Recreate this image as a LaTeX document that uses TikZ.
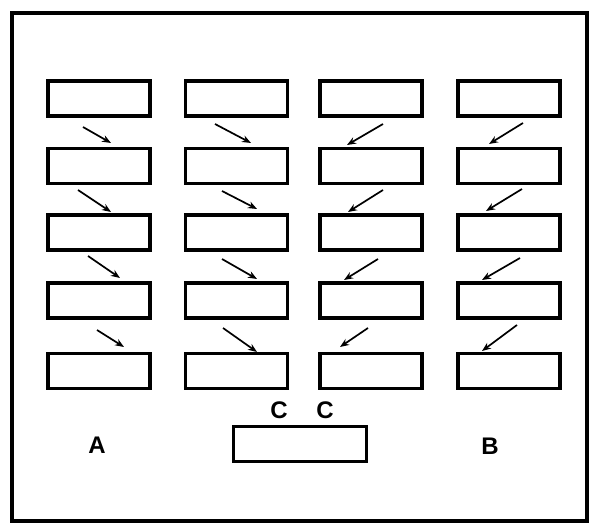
\documentclass[tikz,border=0pt]{standalone}
\usepackage{fontspec}
\setmainfont{Liberation Sans}
\usetikzlibrary{arrows.meta}
\begin{document}
\begin{tikzpicture}[x=1pt,y=-1pt,
  box/.style={draw,line width=3.2pt,minimum width=102pt,minimum height=35pt,inner sep=0pt},
  arr/.style={line width=1.7pt,-{Stealth[length=9pt,width=7pt]}},
  lbl/.style={font=\bfseries\fontsize{24}{24}\selectfont,inner sep=0pt}]
\useasboundingbox (0,0) rectangle (590,524);
\draw[line width=3.8pt] (12,13) rectangle (587,521);
% boxes: columns centres x, rows centres y
\foreach \c/\x in {1/99,2/236.5,3/371,4/509}{
  \foreach \r/\y in {1/98.5,2/166,3/232.5,4/300.5,5/371}{
    \node[box] (b\c\r) at (\x,\y) {};
  }
}
\node[box,minimum width=133pt,minimum height=35pt] (bc) at (300,444) {};
\node[lbl] (la) at (97,445) {A};
\node[lbl] (lb) at (490,446) {B};
\node[lbl] (lc1) at (279,410) {C};
\node[lbl] (lc2) at (325,410) {C};
% arrow end points
\foreach \n/\sx/\sy/\ex/\ey in {
 11/83/127/111/143, 12/78/190/111/212, 13/88/256/120/278, 14/97/330/124/347,
 21/215/124/251/143, 22/222/191/257/209, 23/222/259/257/279, 24/223/328/257/352,
 31/383/124/347/145, 32/383/190/348/212, 33/378/259/344/280, 34/368/328/340/347,
 41/523/123/489/144, 42/522/189/486/211, 43/520/258/482/280, 44/517/325/482/351}{
  \coordinate (s\n) at (\sx,\sy);
  \coordinate (e\n) at (\ex,\ey);
  \draw[arr] (s\n) -- (e\n);
}
\end{tikzpicture}
\end{document}
